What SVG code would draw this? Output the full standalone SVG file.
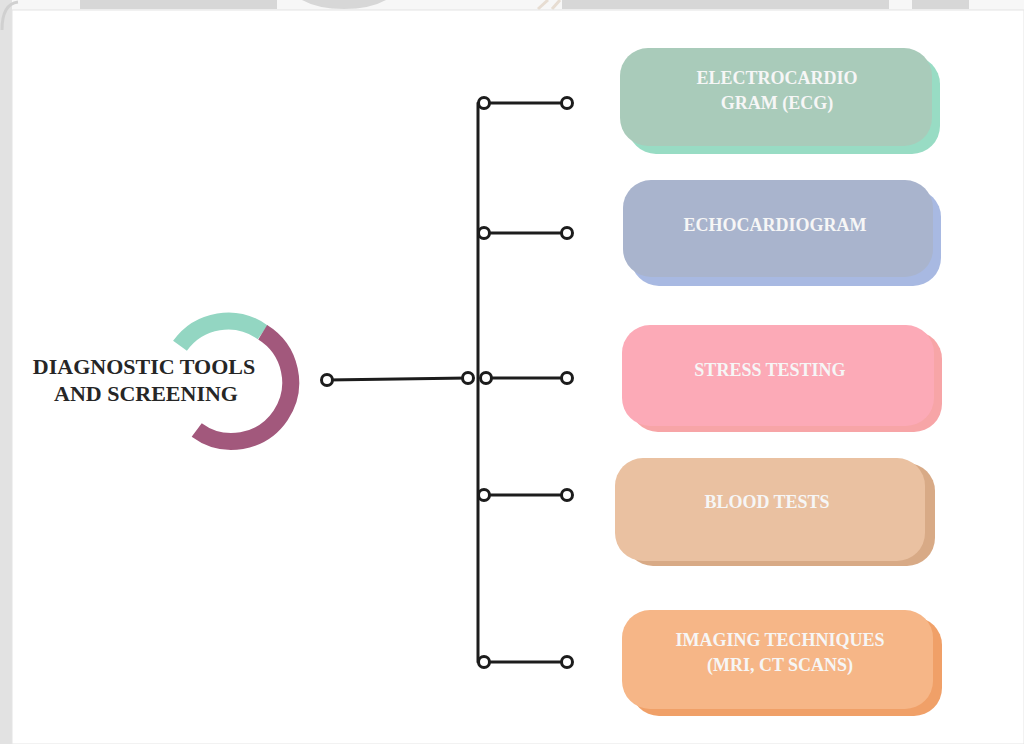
<svg xmlns="http://www.w3.org/2000/svg" width="1024" height="744" viewBox="0 0 1024 744">
<style>
.frame{fill:#d7d7d7}
.btxt{font-family:"Liberation Serif","Times New Roman",serif;font-weight:bold;font-size:18px;fill:#f6f6f6;text-anchor:middle}
.mtxt{font-family:"Liberation Serif","Times New Roman",serif;font-weight:bold;font-size:22px;fill:#262626;text-anchor:middle}
.ln{stroke:#1c1c1c;stroke-width:3;fill:none;stroke-linecap:round}
.dot{stroke:#1c1c1c;stroke-width:3;fill:#ffffff}
</style>
<rect x="0" y="0" width="1024" height="744" fill="#f7f7f7"/>
<rect x="0" y="0" width="12" height="744" fill="#e2e2e2"/>
<rect class="frame" x="80" y="0" width="197" height="9"/>
<path class="frame" d="M302 0 H386 Q370 9 344 9 Q318 9 302 0 Z"/>
<path d="M538 9 L548 0 M552 9 L560 0" stroke="#e7ddd2" stroke-width="3"/>
<rect class="frame" x="562" y="0" width="327" height="9"/>
<rect class="frame" x="912" y="0" width="57" height="9"/>
<path d="M2 30 Q2 4 18 2" stroke="#d0d0d0" stroke-width="3" fill="none"/>
<rect x="12" y="10" width="1012" height="734" fill="#ffffff" stroke="#e4e4e4" stroke-width="1"/>

<g id="center">
<path d="M 180.0 345.8 A 59 59 0 0 1 262.7 332.3" stroke="#93d6c2" stroke-width="17" fill="none"/>
<path d="M 262.7 332.3 A 59 59 0 1 1 196.7 430.0" stroke="#a2587c" stroke-width="17" fill="none"/>
<text class="mtxt" x="144" y="374">DIAGNOSTIC TOOLS</text>
<text class="mtxt" x="146" y="401">AND SCREENING</text>
</g>

<g id="connectors">
<line class="ln" x1="327" y1="380" x2="468" y2="378"/>
<line class="ln" x1="478" y1="103" x2="478" y2="662"/>
<line class="ln" x1="484" y1="103" x2="567" y2="103"/>
<line class="ln" x1="484" y1="233" x2="567" y2="233"/>
<line class="ln" x1="486" y1="378" x2="567" y2="378"/>
<line class="ln" x1="484" y1="495" x2="567" y2="495"/>
<line class="ln" x1="484" y1="662" x2="567" y2="662"/>
<circle class="dot" cx="327" cy="380" r="5.5"/>
<circle class="dot" cx="468" cy="378" r="5.5"/>
<circle class="dot" cx="486" cy="378" r="5.5"/>
<circle class="dot" cx="567" cy="378" r="5.5"/>
<circle class="dot" cx="484" cy="103" r="5.5"/>
<circle class="dot" cx="567" cy="103" r="5.5"/>
<circle class="dot" cx="484" cy="233" r="5.5"/>
<circle class="dot" cx="567" cy="233" r="5.5"/>
<circle class="dot" cx="484" cy="495" r="5.5"/>
<circle class="dot" cx="567" cy="495" r="5.5"/>
<circle class="dot" cx="484" cy="662" r="5.5"/>
<circle class="dot" cx="567" cy="662" r="5.5"/>
</g>

<g id="ecg">
<rect x="628" y="56" width="312" height="98" rx="28" fill="#98dcc4"/>
<rect x="620" y="48" width="312" height="98" rx="28" fill="#a9cbba"/>
<text class="btxt" x="777" y="84">ELECTROCARDIO</text>
<text class="btxt" x="777" y="109">GRAM (ECG)</text>
</g>

<g id="echo">
<rect x="631" y="189" width="310" height="97" rx="28" fill="#a8b9e2"/>
<rect x="623" y="180" width="310" height="97" rx="28" fill="#a9b4cd"/>
<text class="btxt" x="775" y="231">ECHOCARDIOGRAM</text>
</g>

<g id="stress">
<rect x="630" y="331" width="312" height="101" rx="28" fill="#f7a5a7"/>
<rect x="622" y="325" width="312" height="101" rx="28" fill="#fcaab7"/>
<text class="btxt" x="770" y="376">STRESS TESTING</text>
</g>

<g id="blood">
<rect x="625" y="463" width="310" height="103" rx="28" fill="#d8aa86"/>
<rect x="615" y="458" width="310" height="103" rx="28" fill="#eac1a1"/>
<text class="btxt" x="767" y="508">BLOOD TESTS</text>
</g>

<g id="imaging">
<rect x="631" y="617" width="311" height="99" rx="28" fill="#f0a068"/>
<rect x="622" y="610" width="311" height="99" rx="28" fill="#f6b687"/>
<text class="btxt" x="780" y="646">IMAGING TECHNIQUES</text>
<text class="btxt" x="780" y="671">(MRI, CT SCANS)</text>
</g>
</svg>
